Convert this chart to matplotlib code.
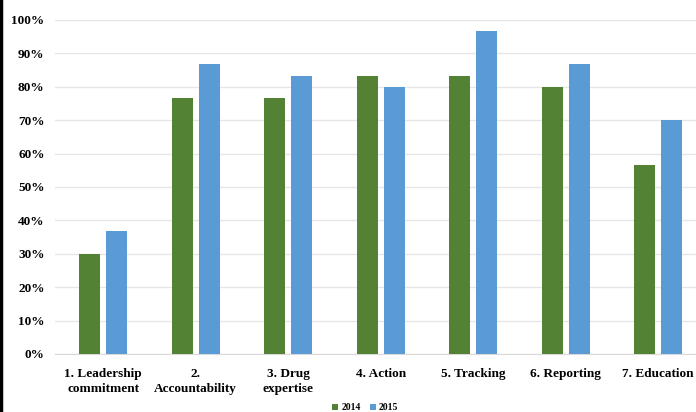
import matplotlib
matplotlib.use("Agg")
import matplotlib.pyplot as plt
from matplotlib.lines import Line2D
from matplotlib.ticker import PercentFormatter
import numpy as np

# scores per element, share of facilities meeting it
categories = ["1. Leadership\ncommitment", "2.\nAccountability", "3. Drug\nexpertise",
              "4. Action", "5. Tracking", "6. Reporting", "7. Education"]
vals_2014 = [30.0, 76.7, 76.7, 83.3, 83.3, 80.0, 56.7]
vals_2015 = [36.7, 86.7, 83.3, 80.0, 96.7, 86.7, 70.0]
yticks = [0, 10, 20, 30, 40, 50, 60, 70, 80, 90, 100]

green = "#548235"
blue = "#5B9BD5"

plt.rcParams["font.family"] = ["Liberation Serif", "DejaVu Serif"]
plt.rcParams["font.weight"] = "bold"

fig = plt.figure(figsize=(6.96, 4.12), dpi=100)
ax = fig.add_axes([0.079, 0.1408, 0.921, 0.8107])

x = np.arange(len(categories))
w = 0.227
off = 0.146
ax.bar(x - off, vals_2014, w, color=green, label="2014", zorder=3)
ax.bar(x + off, vals_2015, w, color=blue, label="2015", zorder=3)

ax.set_xlim(-0.52, 6.41)
ax.set_ylim(0, 100)
ax.set_yticks(yticks)
ax.yaxis.set_major_formatter(PercentFormatter(decimals=0))
ax.set_xticks(x)
ax.set_xticklabels(categories, fontsize=9.5, fontweight="bold", linespacing=1.35)
for lab in ax.get_yticklabels():
    lab.set_fontsize(9.5)
    lab.set_fontweight("bold")
ax.tick_params(axis="both", length=0)
ax.tick_params(axis="y", pad=7.5)
ax.tick_params(axis="x", pad=10)

ax.grid(axis="y", color="#e6e6e6", linewidth=1.0, zorder=0)
ax.set_axisbelow(True)
for s in ["top", "right", "left"]:
    ax.spines[s].set_visible(False)
ax.spines["bottom"].set_color("#d9d9d9")

fig.legend(loc="center", bbox_to_anchor=(0.525, 0.01), ncol=2, frameon=False,
           prop={"size": 7, "weight": "bold"}, handlelength=0.6, handleheight=0.6,
           handletextpad=0.3, columnspacing=1.0)

# dark border down the left edge
fig.add_artist(Line2D([0.002, 0.002], [0, 1], transform=fig.transFigure,
                      color="black", linewidth=2.5))

fig.savefig("out.png", dpi=100)
